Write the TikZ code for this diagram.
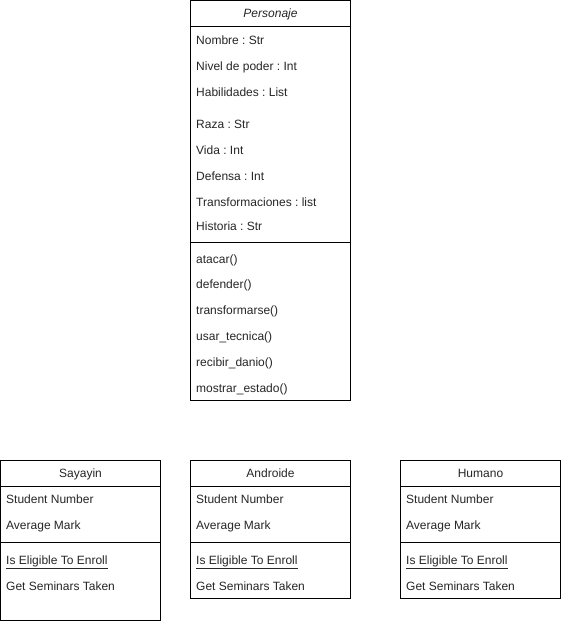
\documentclass[tikz,border=0pt]{standalone}
\usepackage{fontspec}
\setmainfont{Liberation Sans}
\frenchspacing
\begin{document}
\begin{tikzpicture}[x=1pt,y=-1pt,
  classbox/.style={draw=black,line width=1pt,fill=white},
  sepline/.style={draw=black,line width=1pt},
  attr/.style={anchor=west,inner sep=0pt,text height=8.6pt,text depth=0pt,font=\fontsize{12}{14}\selectfont,text=black!85},
  title/.style={anchor=center,inner sep=0pt,text height=8.6pt,text depth=0pt,font=\fontsize{12}{14}\selectfont,text=black!85}]
\useasboundingbox (0,0) rectangle (561,621);
% Personaje
\draw[classbox] (190.5,0.5) rectangle (350.5,400.5);
\node[coordinate] (p1) at (190.5,26.5) {};
\node[coordinate] (p2) at (350.5,26.5) {};
\node[coordinate] (p3) at (190.5,242.5) {};
\node[coordinate] (p4) at (350.5,242.5) {};
\draw[sepline] (p1) -- (p2);
\draw[sepline] (p3) -- (p4);
\node[title,font=\fontsize{12}{14}\selectfont\itshape] (ptitle) at (270.5,13.3) {Personaje};
\node[attr] (pa1) at (196,40.3) {Nombre : Str};
\node[attr] (pa2) at (196,66.3) {Nivel de poder : Int};
\node[attr] (pa3) at (196,92.3) {Habilidades : List};
\node[attr] (pa4) at (196,124.3) {Raza : Str};
\node[attr] (pa5) at (196,150.3) {Vida : Int};
\node[attr] (pa6) at (196,176.3) {Defensa : Int};
\node[attr] (pa7) at (196,202.3) {Transformaciones : list};
\node[attr] (pa8) at (196,226.3) {Historia : Str};
\node[attr] (pm1) at (196,259.3) {atacar()};
\node[attr] (pm2) at (196,284.3) {defender()};
\node[attr] (pm3) at (196,310.3) {transformarse()};
\node[attr] (pm4) at (196,336.3) {usar\_tecnica()};
\node[attr] (pm5) at (196,362.3) {recibir\_danio()};
\node[attr] (pm6) at (196,388.3) {mostrar\_estado()};
% Sayayin
\draw[classbox] (0.5,460.5) rectangle (160.5,620.5);
\node[coordinate] (s1) at (0.5,486.5) {};
\node[coordinate] (s2) at (160.5,486.5) {};
\node[coordinate] (s3) at (0.5,542.5) {};
\node[coordinate] (s4) at (160.5,542.5) {};
\draw[sepline] (s1) -- (s2);
\draw[sepline] (s3) -- (s4);
\node[title] (stitle) at (80.5,473.3) {Sayayin};
\node[attr] (sa1) at (6,499.3) {Student Number};
\node[attr] (sa2) at (6,525.3) {Average Mark};
\node[attr] (sm1) at (6,560.3) {\underline{Is Eligible To Enroll}};
\node[attr] (sm2) at (6,586.3) {Get Seminars Taken};
% Androide
\draw[classbox] (190.5,460.5) rectangle (350.5,598.5);
\node[coordinate] (a1) at (190.5,486.5) {};
\node[coordinate] (a2) at (350.5,486.5) {};
\node[coordinate] (a3) at (190.5,542.5) {};
\node[coordinate] (a4) at (350.5,542.5) {};
\draw[sepline] (a1) -- (a2);
\draw[sepline] (a3) -- (a4);
\node[title] (atitle) at (270.5,473.3) {Androide};
\node[attr] (aa1) at (196,499.3) {Student Number};
\node[attr] (aa2) at (196,525.3) {Average Mark};
\node[attr] (am1) at (196,560.3) {\underline{Is Eligible To Enroll}};
\node[attr] (am2) at (196,586.3) {Get Seminars Taken};
% Humano
\draw[classbox] (400.5,460.5) rectangle (560.5,598.5);
\node[coordinate] (h1) at (400.5,486.5) {};
\node[coordinate] (h2) at (560.5,486.5) {};
\node[coordinate] (h3) at (400.5,542.5) {};
\node[coordinate] (h4) at (560.5,542.5) {};
\draw[sepline] (h1) -- (h2);
\draw[sepline] (h3) -- (h4);
\node[title] (htitle) at (480.5,473.3) {Humano};
\node[attr] (ha1) at (406,499.3) {Student Number};
\node[attr] (ha2) at (406,525.3) {Average Mark};
\node[attr] (hm1) at (406,560.3) {\underline{Is Eligible To Enroll}};
\node[attr] (hm2) at (406,586.3) {Get Seminars Taken};
\end{tikzpicture}
\end{document}
